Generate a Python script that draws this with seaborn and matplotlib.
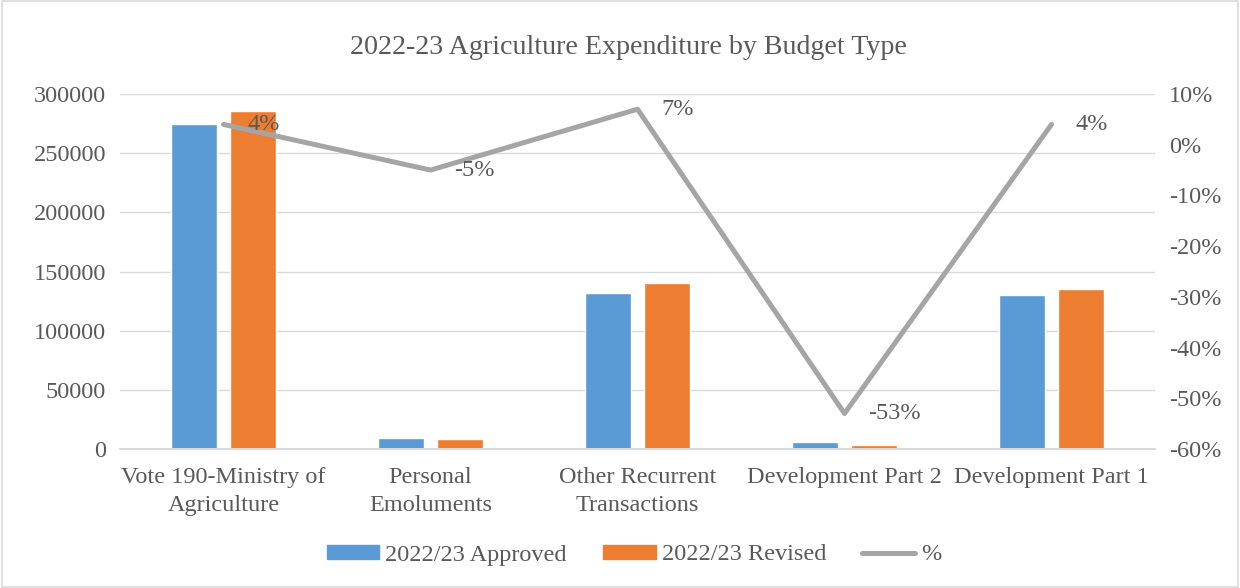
import numpy as np
import pandas as pd
import matplotlib
matplotlib.use("Agg")
import matplotlib.pyplot as plt
import seaborn as sns
from matplotlib.patches import Rectangle
from matplotlib.lines import Line2D
from matplotlib.patches import Patch

categories = ["Vote 190-Ministry of\nAgriculture", "Personal\nEmoluments",
              "Other Recurrent\nTransactions", "Development Part 2", "Development Part 1"]
approved = [274700, 9200, 131800, 6200, 130100]
revised = [285600, 8750, 140500, 3000, 135200]
pct = [4, -5, 7, -53, 4]
pct_labels = ["4%", "-5%", "7%", "-53%", "4%"]
series = ["2022/23 Approved", "2022/23 Revised"]

BLUE, ORANGE, GRAY = "#5B9BD5", "#ED7D31", "#A5A5A5"
TXT = "#595959"
GRID = "#D9D9D9"
FS = 17.5

sns.set_theme(style="white")
plt.rcParams["font.family"] = ["Liberation Serif", "DejaVu Serif"]

df = pd.DataFrame({
    "cat": categories * 2,
    "series": [series[0]] * 5 + [series[1]] * 5,
    "value": approved + revised,
})

fig = plt.figure(figsize=(12.4, 5.88), dpi=100)
ax = fig.add_axes([120 / 1240, 1 - 449 / 588, (1155 - 120) / 1240, (449 - 94) / 588])

sns.barplot(data=df, x="cat", y="value", hue="series", order=categories,
            palette=[BLUE, ORANGE], width=0.57, gap=0.228, ax=ax,
            legend=False, errorbar=None, saturation=1)

ax.set_xlim(-0.5, 4.5)
ax.set_ylim(0, 300000)
ax.set_yticks(np.arange(0, 300001, 50000))
ax.set_yticklabels([str(v) for v in range(0, 300001, 50000)])
ax.yaxis.grid(True, color=GRID, lw=1)
ax.set_axisbelow(True)
ax.set_xlabel("")
ax.set_ylabel("")
for s in ["top", "left", "right"]:
    ax.spines[s].set_visible(False)
ax.spines["bottom"].set_color(GRID)
ax.spines["bottom"].set_linewidth(1.4)
ax.tick_params(axis="both", length=0, labelsize=FS, colors=TXT)
ax.tick_params(axis="x", pad=13)
ax.tick_params(axis="y", pad=10)
for t in ax.get_xticklabels():
    t.set_linespacing(1.42)

ax2 = ax.twinx()
sns.lineplot(x=np.arange(len(pct)), y=pct, ax=ax2, color=GRAY, lw=3.6,
             solid_capstyle="round", solid_joinstyle="round")
ax2.set_ylim(-60, 10)
ax2.set_yticks(np.arange(-60, 11, 10))
ax2.set_yticklabels([f"{v}%" for v in range(-60, 11, 10)])
ax2.tick_params(axis="y", length=0, labelsize=FS, colors=TXT, pad=10)
for s in ax2.spines.values():
    s.set_visible(False)
ax2.set_xlim(-0.5, 4.5)

for i, (v, lab) in enumerate(zip(pct, pct_labels)):
    ax2.annotate(lab, (i, v), xytext=(17, 0), textcoords="offset points",
                 ha="left", va="center", fontsize=FS, color=TXT)

fig.text(628 / 1240, 1 - 47 / 588, "2022-23 Agriculture Expenditure by Budget Type",
         ha="center", va="center", fontsize=20.2, color=TXT)

handles = [Patch(color=BLUE, label=series[0]), Patch(color=ORANGE, label=series[1]),
           Line2D([0], [0], color=GRAY, lw=3.6, label="%", solid_capstyle="round")]
leg = fig.legend(handles=handles, loc="center", bbox_to_anchor=(634 / 1240, 1 - 555 / 588),
                 ncol=3, frameon=False, fontsize=FS, handlelength=2.15,
                 handleheight=0.55, columnspacing=1.5, handletextpad=0.25)
for t in leg.get_texts():
    t.set_color(TXT)

fig.add_artist(Rectangle((0.002, 0.002), 0.996, 0.996, transform=fig.transFigure,
                         fill=False, edgecolor=GRID, lw=1.2))

fig.savefig("out.png", dpi=100)
